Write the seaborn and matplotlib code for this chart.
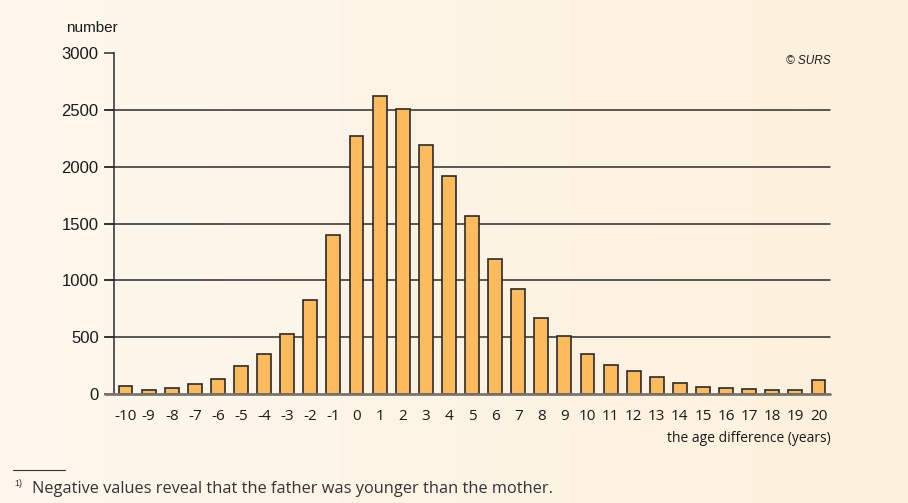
import numpy as np
import pandas as pd
import seaborn as sns
import matplotlib.pyplot as plt

# age difference between father and mother (years), number of births
diferencias = list(range(-10, 21))
valores = [73, 32, 55, 90, 134, 250, 348, 528, 825, 1395, 2268, 2619, 2505, 2193, 1915,
           1565, 1185, 925, 665, 511, 352, 259, 198, 151, 99, 64, 56, 44, 35, 35, 119]
etiquetas_y = [0, 500, 1000, 1500, 2000, 2500, 3000]

datos = pd.DataFrame({'Diferencia': [str(d) for d in diferencias], 'Valor': valores})

sns.set_theme(style='white')
plt.rcParams['font.family'] = ['Liberation Sans', 'DejaVu Sans']

fondo = '#FEF6E8'
fig = plt.figure(figsize=(9.08, 5.03), dpi=100, facecolor=fondo)
ax = fig.add_axes([114 / 908, 1 - 394 / 503, (830 - 114) / 908, (394 - 53) / 503])
ax.set_facecolor('none')

# fondo degradado
grad = np.linspace(0, 1, 256).reshape(1, -1)
bg = fig.add_axes([0, 0, 1, 1], zorder=-10)
bg.imshow(grad, aspect='auto', extent=[0, 1, 0, 1],
          cmap=plt.matplotlib.colors.LinearSegmentedColormap.from_list('f', ['#FEF8EE', '#FDF0DC']))
bg.axis('off')

sns.barplot(data=datos, x='Diferencia', y='Valor', color='#FDBB5E', width=0.6,
            edgecolor='#2b2b2b', linewidth=1.2, saturation=1, ax=ax, zorder=3)

ax.set_ylim(0, 3000)
ax.set_yticks(etiquetas_y)
for v in etiquetas_y[1:-1]:
    ax.axhline(v, color='#2b2b2b', lw=1.1, zorder=1, xmin=-0.013, clip_on=False)
ax.axhline(0, color='#7a746c', lw=2, zorder=4, xmin=-0.013, clip_on=False)

for s in ['top', 'right', 'bottom']:
    ax.spines[s].set_visible(False)
ax.spines['left'].set_color('#2b2b2b')
ax.spines['left'].set_linewidth(1.1)
ax.tick_params(axis='y', left=True, length=7, width=1.1, color='#2b2b2b',
               labelsize=12, pad=4, labelcolor='#1a1a1a')
ax.tick_params(axis='x', bottom=False, labelsize=11, pad=5, labelcolor='#1a1a1a')
for t in ax.get_xticklabels():
    t.set_family(['Open Sans', 'DejaVu Sans'])
ax.set_xlabel('')
ax.set_ylabel('')

fig.text(66 / 908, 1 - 28 / 503, 'number', fontsize=11, color='#1a1a1a', va='center')
fig.text(831 / 908, 1 - 439 / 503, 'the age difference (years)', fontsize=10,
         color='#1a1a1a', ha='right', va='center', family=['Open Sans', 'DejaVu Sans'])
fig.text(831 / 908, 1 - 61 / 503, '© SURS', fontsize=8.5, style='italic',
         color='#1a1a1a', ha='right', va='center')

fig.add_artist(plt.Line2D([13 / 908, 65 / 908], [1 - 470 / 503, 1 - 470 / 503],
                          color='#333333', lw=0.8))
fig.text(14 / 908, 1 - 484 / 503, '1)', fontsize=6.5, color='#333333', va='center')
fig.text(32 / 908, 1 - 489 / 503, 'Negative values reveal that the father was younger than the mother.',
         fontsize=11.8, color='#333333', va='center',
         family=['Open Sans', 'DejaVu Sans'])

plt.savefig('out.png', dpi=100, facecolor=fondo)
